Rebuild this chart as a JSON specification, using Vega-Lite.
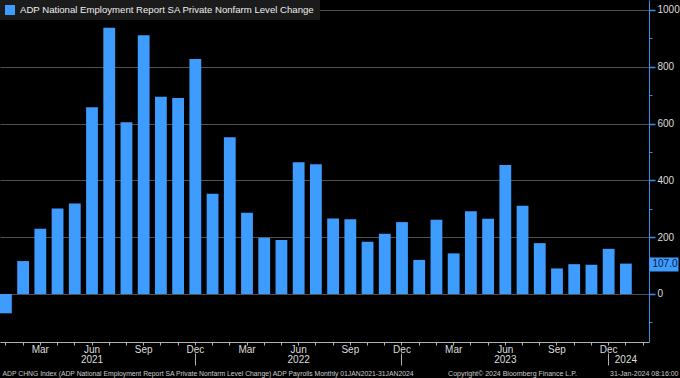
{
  "$schema": "https://vega.github.io/schema/vega-lite/v6.json",
  "autosize": {"type": "none"},
  "padding": {"left": 0, "top": 0, "right": 31, "bottom": 36},
  "width": 649,
  "height": 342,
  "background": "#000000",
  "config": {
    "view": {"stroke": null},
    "font": "Liberation Sans",
    "axis": {"labelFont": "Liberation Sans", "titleFont": "Liberation Sans"},
    "legend": {"labelFont": "Liberation Sans"}
  },
  "data": {"values": [
    {"month": "2021-01", "value": -68},
    {"month": "2021-02", "value": 116},
    {"month": "2021-03", "value": 230},
    {"month": "2021-04", "value": 301},
    {"month": "2021-05", "value": 319},
    {"month": "2021-06", "value": 657},
    {"month": "2021-07", "value": 937},
    {"month": "2021-08", "value": 605},
    {"month": "2021-09", "value": 911},
    {"month": "2021-10", "value": 694},
    {"month": "2021-11", "value": 690},
    {"month": "2021-12", "value": 827},
    {"month": "2022-01", "value": 353},
    {"month": "2022-02", "value": 552},
    {"month": "2022-03", "value": 286},
    {"month": "2022-04", "value": 198},
    {"month": "2022-05", "value": 190},
    {"month": "2022-06", "value": 464},
    {"month": "2022-07", "value": 457},
    {"month": "2022-08", "value": 266},
    {"month": "2022-09", "value": 263},
    {"month": "2022-10", "value": 184},
    {"month": "2022-11", "value": 212},
    {"month": "2022-12", "value": 253},
    {"month": "2023-01", "value": 120},
    {"month": "2023-02", "value": 261},
    {"month": "2023-03", "value": 143},
    {"month": "2023-04", "value": 291},
    {"month": "2023-05", "value": 265},
    {"month": "2023-06", "value": 454},
    {"month": "2023-07", "value": 311},
    {"month": "2023-08", "value": 179},
    {"month": "2023-09", "value": 90},
    {"month": "2023-10", "value": 105},
    {"month": "2023-11", "value": 103},
    {"month": "2023-12", "value": 159},
    {"month": "2024-01", "value": 107}
  ]},
  "resolve": {"axis": {"x": "independent", "y": "independent"}},
  "layer": [
    {
      "mark": {"type": "bar"},
      "encoding": {
        "x": {
          "field": "month", "type": "ordinal",
          "scale": {
            "domain": ["2021-01","2021-02","2021-03","2021-04","2021-05","2021-06","2021-07","2021-08","2021-09","2021-10","2021-11","2021-12","2022-01","2022-02","2022-03","2022-04","2022-05","2022-06","2022-07","2022-08","2022-09","2022-10","2022-11","2022-12","2023-01","2023-02","2023-03","2023-04","2023-05","2023-06","2023-07","2023-08","2023-09","2023-10","2023-11","2023-12","2024-01","2024-02"],
            "paddingInner": 0.315, "paddingOuter": 0
          },
          "axis": {
            "orient": "bottom",
            "domainColor": "#b0b0b0", "domainWidth": 1,
            "tickColor": "#b0b0b0", "tickSize": 3,
            "labelExpr": "slice(datum.value,5)=='03' ? 'Mar' : slice(datum.value,5)=='06' ? 'Jun' : slice(datum.value,5)=='09' ? 'Sep' : slice(datum.value,5)=='12' ? 'Dec' : ''",
            "labelAngle": 0, "labelColor": "#dddddd", "labelFontSize": 10,
            "labelPadding": -1, "labelOverlap": false, "labelBound": false, "labelFlush": false,
            "title": "Copyright\u00a9 2024 Bloomberg Finance L.P.",
            "titleX": 512, "titleY": 33, "titleAlign": "center", "titleBaseline": "alphabetic",
            "titleFontSize": 7, "titleFontWeight": "normal", "titleColor": "#cccccc"
          }
        },
        "y": {
          "field": "value", "type": "quantitative",
          "scale": {"domain": [-169, 1035], "nice": false, "zero": false},
          "axis": {
            "orient": "right",
            "values": [0, 200, 400, 600, 800, 1000], "format": "d",
            "grid": true, "gridColor": "#505050", "gridWidth": 1,
            "domainColor": "#3a8fe8", "domainWidth": 1,
            "tickColor": "#3a8fe8", "tickSize": 6, "tickWidth": 1.5,
            "labelColor": "#dddddd", "labelFontSize": 10, "labelPadding": 2,
            "title": "ADP CHNG Index (ADP National Employment Report SA Private Nonfarm Level Change) ADP Payrolls  Monthly 01JAN2021-31JAN2024",
            "titleX": -647, "titleY": 375, "titleAngle": 0, "titleAlign": "left", "titleBaseline": "alphabetic",
            "titleFontSize": 6.8, "titleFontWeight": "normal", "titleColor": "#cccccc"
          }
        },
        "color": {
          "datum": "ADP National Employment Report SA Private Nonfarm Level Change",
          "type": "nominal",
          "scale": {"range": ["#3e9cff"]},
          "legend": {
            "orient": "top-left", "offset": 0, "title": null,
            "fillColor": "#1b1b1b", "padding": 5,
            "symbolType": "square", "symbolSize": 100, "symbolStrokeWidth": 0,
            "labelColor": "#eeeeee", "labelFontSize": 9.6, "labelOffset": 5, "labelLimit": 400
          }
        }
      }
    },
    {
      "mark": {"type": "point", "opacity": 0},
      "encoding": {
        "x": {
          "field": "month", "type": "ordinal",
          "axis": {
            "orient": "bottom", "offset": 11, "domain": false,
            "tickColor": "#b0b0b0", "tickSize": 12,
            "tickOpacity": {"condition": {"test": "slice(datum.value,5)=='12'", "value": 1}, "value": 0},
            "labelExpr": "slice(datum.value,5)=='06' || datum.value=='2024-01' ? slice(datum.value,0,4) : ''",
            "labelAngle": 0, "labelColor": "#dddddd", "labelFontSize": 10,
            "labelPadding": -10.5, "labelOverlap": false, "labelBound": false, "labelFlush": false,
            "title": "31-Jan-2024 08:16:00",
            "titleX": 678, "titleY": 22, "titleAlign": "right", "titleBaseline": "alphabetic",
            "titleFontSize": 7, "titleFontWeight": "normal", "titleColor": "#cccccc"
          }
        },
        "y": {
          "field": "value", "type": "quantitative",
          "scale": {"domain": [-169, 1035], "nice": false, "zero": false},
          "axis": {
            "orient": "right", "values": [-100, 100, 300, 500, 700, 900],
            "grid": false, "domain": false, "labels": false,
            "tickColor": "#3a8fe8", "tickSize": 3, "title": null
          }
        }
      }
    },
    {
      "mark": {"type": "point", "opacity": 0},
      "encoding": {
        "x": {"field": "month", "type": "ordinal", "axis": null},
        "y": {
          "field": "value", "type": "quantitative",
          "scale": {"domain": [-169, 1035], "nice": false, "zero": false},
          "axis": {
            "orient": "right", "values": [107],
            "grid": false, "domain": false,
            "tickColor": "#3e9cff", "tickSize": 29, "tickWidth": 14,
            "labelExpr": "'107.0'", "labelColor": "#0a1a33", "labelFontSize": 10,
            "labelPadding": -26, "title": null
          }
        }
      }
    }
  ]
}
